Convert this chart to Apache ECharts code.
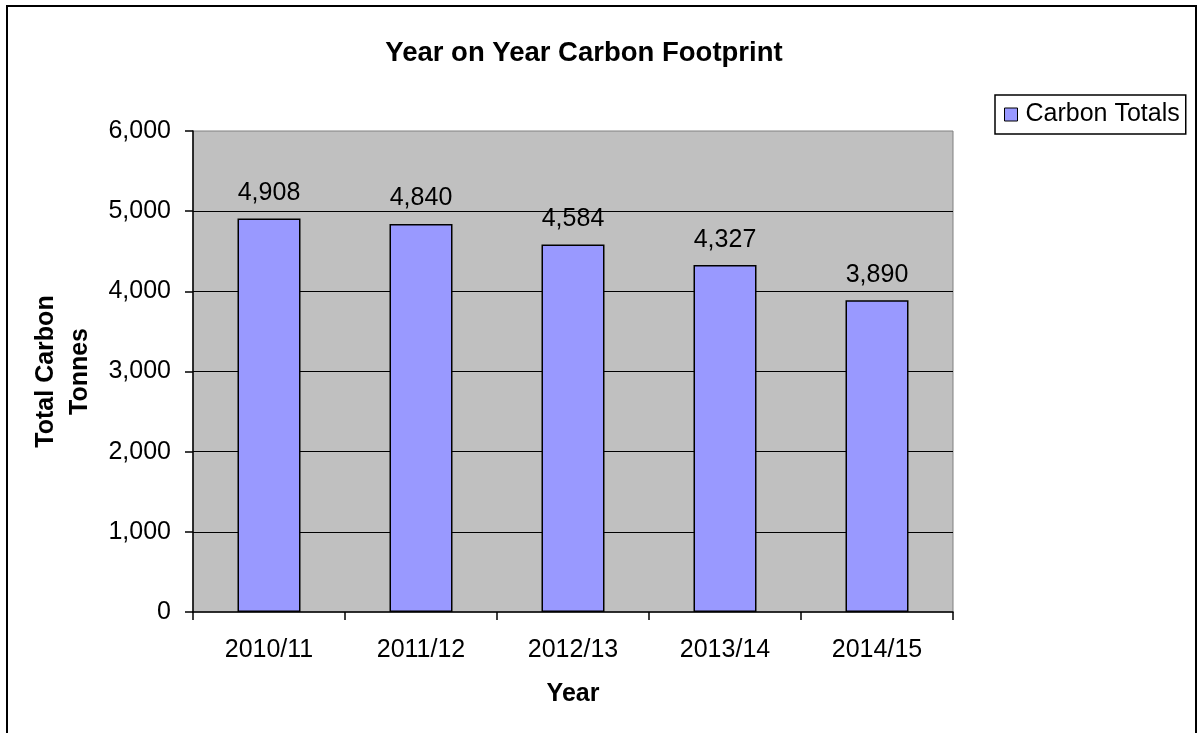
<!DOCTYPE html>
<html>
<head>
<meta charset="utf-8">
<script src="https://cdn.jsdelivr.net/npm/echarts@6/dist/echarts.min.js"></script>
<style>
html,body{margin:0;padding:0;background:#fff;}
#chart{width:1197px;height:733px;}
</style>
</head>
<body>
<div id="chart"></div>
<script>
const categories = ['2010/11', '2011/12', '2012/13', '2013/14', '2014/15'];
const carbonTotals = [4908, 4840, 4584, 4327, 3890];
const seriesName = 'Carbon Totals';
const titleText = 'Year on Year Carbon Footprint';
const yAxisName = 'Total Carbon\nTonnes';
const xAxisName = 'Year';

const FONT = 'Arial, "Liberation Sans", sans-serif';
const fmt = v => Number(v).toLocaleString('en-US');

const chart = echarts.init(document.getElementById('chart'), null, {renderer: 'canvas'});
chart.setOption({
  animation: false,
  backgroundColor: '#ffffff',
  textStyle: {fontFamily: FONT},
  title: {
    text: titleText,
    left: 579,
    textAlign: 'center',
    top: 34,
    textStyle: {fontFamily: FONT, fontSize: 27.5, fontWeight: 'bold', color: '#000'}
  },
  legend: {
    left: 995,
    top: 95,
    orient: 'vertical',
    itemWidth: 13,
    itemHeight: 13,
    padding: [7, 6, 7, 9],
    borderColor: '#000',
    borderWidth: 1.5,
    backgroundColor: '#fff',
    textStyle: {fontFamily: FONT, fontSize: 25, color: '#000', padding: [0, 0, 0, 3]},
    data: [{name: seriesName, icon: 'rect', itemStyle: {color: '#9999ff', borderColor: '#000', borderWidth: 1}}]
  },
  grid: {
    left: 193,
    right: 244,
    top: 131,
    bottom: 121,
    show: true,
    backgroundColor: '#c0c0c0',
    borderColor: '#808080',
    borderWidth: 1
  },
  xAxis: {
    type: 'category',
    data: categories,
    name: xAxisName,
    nameLocation: 'middle',
    nameGap: 70,
    nameTextStyle: {fontFamily: FONT, fontSize: 25, fontWeight: 'bold', color: '#000'},
    axisLine: {show: true, lineStyle: {color: '#000', width: 1.5}},
    axisTick: {show: true, length: 8, lineStyle: {color: '#000', width: 1.5}},
    axisLabel: {fontFamily: FONT, fontSize: 25, color: '#000', margin: 26}
  },
  yAxis: {
    type: 'value',
    min: 0,
    max: 6000,
    interval: 1000,
    name: yAxisName,
    nameLocation: 'middle',
    nameGap: 93,
    nameRotate: 90,
    nameTextStyle: {fontFamily: FONT, fontSize: 25, fontWeight: 'bold', color: '#000', lineHeight: 34, align: 'center'},
    axisLine: {show: true, lineStyle: {color: '#000', width: 1.5}},
    axisTick: {show: true, length: 8, lineStyle: {color: '#000', width: 1.5}},
    axisLabel: {fontFamily: FONT, fontSize: 25, color: '#000', margin: 22, formatter: v => fmt(v)},
    splitLine: {show: true, showMaxLine: false, showMinLine: false, lineStyle: {color: '#000', width: 1}}
  },
  series: [{
    name: seriesName,
    type: 'bar',
    data: carbonTotals,
    barWidth: 63,
    itemStyle: {color: '#9999ff', borderColor: '#000', borderWidth: 1.5},
    label: {
      show: true,
      position: 'top',
      distance: 13,
      fontFamily: FONT,
      fontSize: 25,
      color: '#000',
      formatter: p => fmt(p.value)
    }
  }],
  graphic: [{
    type: 'rect',
    shape: {x: 7, y: 6, width: 1189, height: 760},
    style: {fill: 'none', stroke: '#000', lineWidth: 2},
    silent: true,
    z: 100
  }]
});
</script>
</body>
</html>
